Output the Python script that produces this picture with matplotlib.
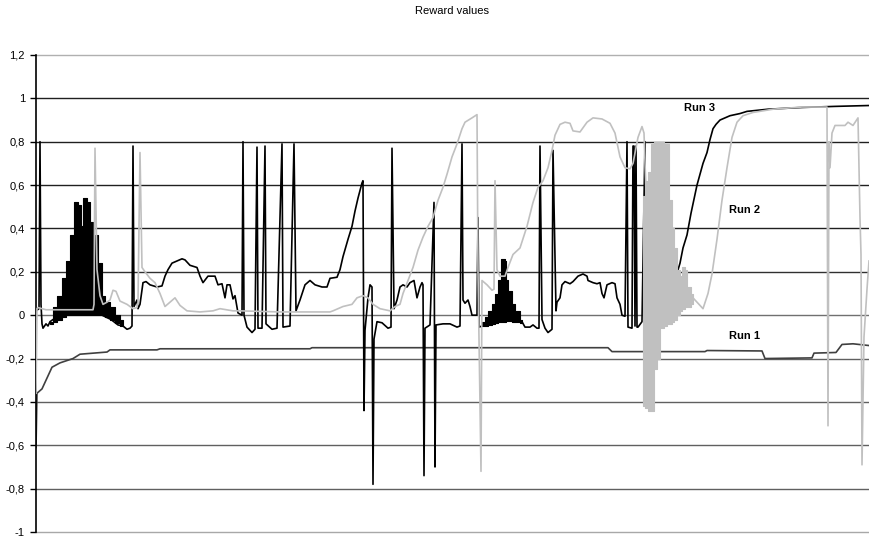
import matplotlib
matplotlib.use("Agg")
import matplotlib.pyplot as plt
from matplotlib.ticker import FixedLocator, FuncFormatter

plt.rcParams['font.family'] = ['Liberation Sans', 'DejaVu Sans']

# episode index / reward value
run1_x = [0, 1, 6, 11, 16, 24, 37, 44, 71, 74, 121, 124, 274, 276, 572, 576,
          669, 671, 726, 729, 776, 778, 800, 806, 817, 833]
run1_y = [-0.61, -0.36, -0.34, -0.29, -0.24, -0.22, -0.20, -0.18, -0.17, -0.16,
          -0.16, -0.155, -0.155, -0.15, -0.15, -0.168, -0.168, -0.163, -0.165,
          -0.20, -0.197, -0.175, -0.172, -0.135, -0.132, -0.14]

run3_x = [0, 3, 4, 5, 6, 7, 10, 12, 14, 17, 26, 66, 75, 82, 87, 91, 94, 96, 97, 98,
          101, 102, 104, 107, 110, 114, 121, 126, 129, 132, 136, 141, 146, 149, 154,
          161, 164, 167, 172, 179, 182, 186, 189, 191, 194, 197, 199, 202, 206, 207,
          208, 211, 216, 219, 221, 222, 226, 229, 230, 236, 241, 246, 247, 254, 258,
          260, 264, 269, 274, 279, 286, 291, 294, 301, 304, 307, 312, 316, 319, 322,
          326, 327, 328, 329, 332, 334, 336, 337, 338, 341, 346, 352, 355, 356, 358,
          361, 364, 367, 371, 374, 378, 381, 384, 386, 387, 388, 389, 394, 398, 399,
          400, 407, 414, 421, 424, 426, 427, 429, 432, 434, 436, 441, 442, 443, 446,
          452, 462, 472, 479, 486, 489, 494, 497, 501, 503, 504, 506, 509, 512, 516,
          517, 520, 521, 524, 526, 529, 534, 537, 542, 547, 551, 552, 557, 561, 564,
          566, 568, 571, 576, 579, 581, 584, 586, 589, 591, 592, 596, 597, 598, 599,
          600, 601, 602, 606, 609, 610, 620, 635, 644, 647, 651, 655, 661, 667, 671,
          674, 677, 680, 684, 694, 704, 711, 732, 766, 799, 833]
run3_y = [0.02, 0.03, 0.80, 0.05, -0.04, -0.06, -0.04, -0.05, -0.03, -0.02, 0.0, 0.0,
          -0.02, -0.045, -0.05, -0.065, -0.06, -0.05, 0.78, 0.04, 0.07, 0.03, 0.05,
          0.15, 0.155, 0.14, 0.13, 0.135, 0.18, 0.21, 0.24, 0.25, 0.26, 0.255, 0.23,
          0.22, 0.18, 0.15, 0.18, 0.18, 0.14, 0.145, 0.08, 0.14, 0.14, 0.075, 0.09,
          0.01, 0.0, 0.80, 0.0, -0.055, -0.08, -0.065, 0.775, -0.06, -0.06, 0.78,
          -0.04, -0.065, -0.06, 0.79, -0.055, -0.05, 0.79, 0.02, 0.07, 0.14, 0.16,
          0.14, 0.13, 0.13, 0.17, 0.175, 0.21, 0.27, 0.35, 0.41, 0.48, 0.54, 0.61,
          0.62, -0.44, -0.07, 0.08, 0.14, 0.13, -0.78, -0.11, -0.03, -0.035, -0.06,
          -0.055, 0.77, 0.03, 0.07, 0.13, 0.14, 0.13, 0.15, 0.16, 0.08, 0.13, 0.15,
          0.14, -0.74, -0.06, -0.045, 0.52, -0.70, -0.045, -0.04, -0.04, -0.055,
          -0.05, 0.79, 0.07, 0.055, 0.07, 0.04, 0.0, 0.0, 0.45, -0.055, -0.05, -0.045,
          -0.03, -0.025, -0.03, -0.03, -0.055, -0.055, -0.045, -0.06, -0.06, 0.78,
          -0.02, -0.06, -0.08, -0.065, 0.76, 0.02, 0.06, 0.08, 0.14, 0.155, 0.145,
          0.155, 0.18, 0.19, 0.18, 0.16, 0.15, 0.145, 0.15, 0.10, 0.08, 0.14, 0.15,
          0.145, 0.08, 0.05, 0.0, -0.005, 0.80, -0.055, -0.06, 0.78, 0.78, -0.05,
          0.78, -0.055, -0.055, -0.03, 0.80, -0.03, 0.0, 0.10, 0.24, 0.31, 0.37, 0.47,
          0.60, 0.70, 0.75, 0.81, 0.86, 0.88, 0.90, 0.92, 0.93, 0.94, 0.95, 0.958,
          0.963, 0.967]

# dense oscillation bands of run 3 (upper / lower envelope, stepped)
band3a_x = [14, 17, 21, 26, 30, 34, 38, 42, 45, 47, 51, 54, 57, 62, 66, 69, 74, 79, 84, 87]
band3a_hi = [-0.03, 0.04, 0.09, 0.17, 0.25, 0.37, 0.52, 0.51, 0.41, 0.54, 0.52, 0.43,
             0.37, 0.24, 0.09, 0.06, 0.04, 0.0, -0.02, -0.04]
band3a_lo = [-0.04, -0.03, -0.02, -0.01, 0.0, 0.0, 0.0, 0.0, 0.0, 0.0, 0.0, 0.0, 0.0,
             0.0, 0.0, -0.01, -0.02, -0.035, -0.05, -0.05]
band3b_x = [446, 449, 452, 456, 459, 462, 465, 469, 470, 472, 476, 479, 484, 486]
band3b_hi = [-0.03, -0.01, 0.02, 0.05, 0.10, 0.16, 0.26, 0.25, 0.16, 0.11, 0.05,
             0.02, -0.02, -0.03]
band3b_lo = [-0.05, -0.05, -0.045, -0.04, -0.035, -0.03, -0.03, -0.03, -0.025,
             -0.025, -0.03, -0.03, -0.035, -0.035]

run2_x = [0, 1, 2, 10, 57, 58, 59, 61, 64, 67, 71, 74, 77, 80, 84, 91, 97, 101, 102,
          104, 106, 109, 114, 119, 124, 129, 134, 139, 144, 151, 164, 177, 184, 197,
          204, 244, 294, 297, 307, 316, 321, 327, 332, 337, 344, 354, 359, 364, 367,
          372, 377, 382, 387, 392, 397, 402, 407, 411, 416, 421, 426, 429, 436, 441,
          442, 445, 446, 451, 456, 458, 459, 461, 464, 469, 472, 477, 484, 491, 497,
          502, 507, 512, 516, 519, 524, 529, 534, 537, 544, 551, 557, 566, 574, 579,
          584, 589, 594, 597, 602, 606, 608, 612, 620, 630, 640, 650, 657, 661, 667,
          672, 676, 681, 686, 691, 696, 701, 707, 717, 737, 766, 791, 792, 793, 794,
          796, 799, 809, 812, 817, 822, 824, 825, 826, 828, 831, 833]
run2_y = [-0.36, 0.03, 0.035, 0.025, 0.025, 0.05, 0.77, 0.21, 0.09, 0.05, 0.06, 0.07,
          0.115, 0.11, 0.065, 0.05, 0.03, 0.035, 0.06, 0.75, 0.22, 0.20, 0.17, 0.15,
          0.10, 0.04, 0.06, 0.08, 0.045, 0.02, 0.015, 0.02, 0.03, 0.02, 0.02, 0.015,
          0.015, 0.02, 0.04, 0.05, 0.08, 0.09, 0.08, 0.05, 0.03, 0.02, 0.04, 0.05,
          0.10, 0.16, 0.22, 0.30, 0.36, 0.41, 0.45, 0.53, 0.59, 0.65, 0.73, 0.79, 0.86,
          0.89, 0.91, 0.925, 0.20, -0.72, 0.16, 0.14, 0.115, 0.12, 0.62, 0.21, 0.18,
          0.18, 0.22, 0.28, 0.31, 0.41, 0.52, 0.59, 0.62, 0.68, 0.76, 0.83, 0.88, 0.89,
          0.885, 0.85, 0.845, 0.89, 0.91, 0.905, 0.885, 0.84, 0.73, 0.68, 0.675, 0.70,
          0.82, 0.87, 0.84, 0.3, 0.2, 0.1, 0.1, 0.06, 0.08, 0.06, 0.03, 0.10, 0.19,
          0.35, 0.53, 0.68, 0.82, 0.89, 0.92, 0.935, 0.95, 0.96, 0.96, -0.51, 0.80,
          0.68, 0.84, 0.875, 0.875, 0.89, 0.875, 0.91, 0.45, 0.28, -0.69, -0.10, 0.12,
          0.25]

# dense oscillation band of run 2
band2_x = [607, 609, 612, 615, 618, 621, 624, 628, 631, 633, 636, 638, 641, 644, 646,
           649, 651, 655, 657]
band2_hi = [0.55, 0.62, 0.66, 0.79, 0.80, 0.80, 0.80, 0.79, 0.79, 0.53, 0.40, 0.31,
            0.21, 0.18, 0.22, 0.21, 0.13, 0.10, 0.08]
band2_lo = [-0.42, -0.43, -0.44, -0.44, -0.25, -0.20, -0.06, -0.05, -0.04, -0.04,
            -0.03, -0.02, 0.0, 0.02, 0.03, 0.04, 0.04, 0.05, 0.07]

y_ticks = [-1, -0.8, -0.6, -0.4, -0.2, 0, 0.2, 0.4, 0.6, 0.8, 1, 1.2]
grid_colors = ['#a8a8a8', '#606060', '#606060', '#606060', '#606060', '#707070',
               '#303030', '#202020', '#202020', '#202020', '#202020', '#b0b0b0']

fig = plt.figure(figsize=(8.69, 5.40), dpi=100)
ax = fig.add_axes([36 / 869, 8 / 540, 833 / 869, 477 / 540])

for yv, c in zip(y_ticks, grid_colors):
    ax.axhline(yv, color=c, lw=1.0, zorder=1, clip_on=False)

ax.plot(run1_x, run1_y, color='#404040', lw=1.2, zorder=2)

ax.plot(run3_x, run3_y, color='black', lw=1.2, zorder=3)
ax.fill_between(band3a_x, band3a_lo, band3a_hi, step='post', color='black', lw=0.8, zorder=3)
ax.fill_between(band3b_x, band3b_lo, band3b_hi, step='post', color='black', lw=0.8, zorder=3)

ax.plot(run2_x, run2_y, color='#c0c0c0', lw=1.2, zorder=4)
ax.fill_between(band2_x, band2_lo, band2_hi, step='post', color='#c0c0c0', lw=0.8, zorder=4)

ax.text(664, 0.955, 'Run 3', ha='center', va='center', fontsize=8, fontweight='bold', zorder=5)
ax.text(709, 0.484, 'Run 2', ha='center', va='center', fontsize=8, fontweight='bold', zorder=5)
ax.text(709, -0.097, 'Run 1', ha='center', va='center', fontsize=8, fontweight='bold', zorder=5)

ax.set_xlim(0, 833)
ax.set_ylim(-1, 1.2)
ax.yaxis.set_major_locator(FixedLocator(y_ticks))
ax.yaxis.set_major_formatter(FuncFormatter(lambda v, p: ('%g' % round(v, 1)).replace('.', ',')))
ax.tick_params(axis='y', length=4, width=1, labelsize=8, pad=4, color='black')
ax.set_xticks([])
for s in ['top', 'right', 'bottom']:
    ax.spines[s].set_visible(False)
ax.spines['left'].set_color('black')
ax.spines['left'].set_linewidth(1.2)
ax.patch.set_visible(False)

fig.text(452 / 869, 1 - 11 / 540, 'Reward values', ha='center', va='center', fontsize=8)

fig.savefig('out.png', dpi=100)
